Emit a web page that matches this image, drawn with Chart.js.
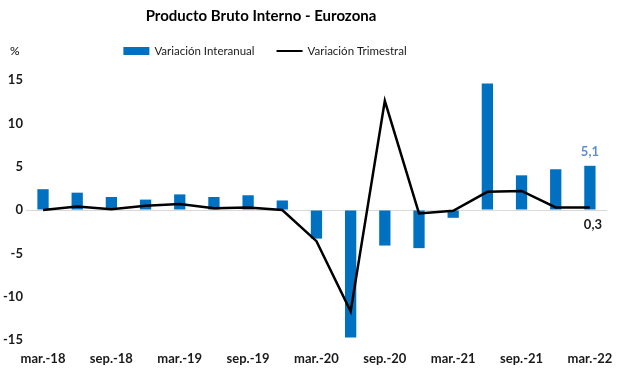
<!DOCTYPE html>
<html>
<head>
<meta charset="utf-8">
<script src="https://cdn.jsdelivr.net/npm/chart.js@4"></script>
<style>
  html, body { margin: 0; padding: 0; background: #fff; }
  #wrap { width: 617px; height: 370px; position: relative; }
</style>
</head>
<body>
<div id="wrap"><canvas id="gdp"></canvas></div>
<script>
// Quarterly data, euro area GDP
const quarters = [
  "mar.-18", "jun.-18", "sep.-18", "dic.-18",
  "mar.-19", "jun.-19", "sep.-19", "dic.-19",
  "mar.-20", "jun.-20", "sep.-20", "dic.-20",
  "mar.-21", "jun.-21", "sep.-21", "dic.-21",
  "mar.-22"
];
const yoy = [2.4, 2.0, 1.5, 1.2, 1.8, 1.5, 1.7, 1.1, -3.3, -14.7, -4.1, -4.4, -0.9, 14.6, 4.0, 4.7, 5.1];
const qoq = [0.0, 0.4, 0.1, 0.5, 0.7, 0.2, 0.3, 0.0, -3.6, -11.7, 12.6, -0.4, -0.1, 2.1, 2.2, 0.3, 0.3];
const yTicks = [-15, -10, -5, 0, 5, 10, 15];

const titleText = "Producto Bruto Interno - Eurozona";
const barColor = "#0070C0";
const FONT = "Lato, 'Liberation Sans', sans-serif";

// title, "%" unit and legend drawn above the plot
const headerPlugin = {
  id: "header",
  afterDraw(chart) {
    const ctx = chart.ctx;
    ctx.save();
    ctx.fillStyle = "#000";
    ctx.textBaseline = "middle";
    ctx.textAlign = "center";
    ctx.font = "bold 15px " + FONT;
    ctx.fillText(titleText, 261, 16);

    ctx.textAlign = "left";
    ctx.font = "12px " + FONT;
    ctx.fillText("%", 10, 51);

    // legend
    ctx.font = "11.5px " + FONT;
    const items = chart.data.datasets.map(ds => ({ text: ds.label, type: ds.type, color: ds.type === "bar" ? ds.backgroundColor : ds.borderColor }));
    const boxW = 26, gapText = 5, gapItem = 22;
    let total = 0;
    items.forEach((it, i) => {
      it.w = ctx.measureText(it.text).width;
      total += boxW + gapText + it.w + (i ? gapItem : 0);
    });
    let x = 265 - total / 2;
    const y = 51;
    items.forEach(it => {
      if (it.type === "bar") {
        ctx.fillStyle = it.color;
        ctx.fillRect(x, y - 4, boxW, 8);
      } else {
        ctx.strokeStyle = it.color;
        ctx.lineWidth = 2;
        ctx.beginPath();
        ctx.moveTo(x, y);
        ctx.lineTo(x + boxW, y);
        ctx.stroke();
      }
      ctx.fillStyle = "#1a1a1a";
      ctx.fillText(it.text, x + boxW + gapText, y);
      x += boxW + gapText + it.w + gapItem;
    });
    ctx.restore();
  }
};

// value labels on the last quarter
const lastLabels = {
  id: "lastLabels",
  afterDatasetsDraw(chart) {
    const ctx = chart.ctx;
    const n = quarters.length - 1;
    const bar = chart.getDatasetMeta(0).data[n];
    const pt = chart.getDatasetMeta(1).data[n];
    ctx.save();
    ctx.font = "bold 13px " + FONT;
    ctx.textAlign = "center";
    ctx.textBaseline = "middle";
    ctx.fillStyle = "#5B8FD0";
    ctx.fillText(yoy[n].toFixed(1).replace(".", ","), bar.x, bar.y - 14);
    ctx.fillStyle = "#1a1a1a";
    ctx.fillText(qoq[n].toFixed(1).replace(".", ","), pt.x + 3, pt.y + 17);
    ctx.restore();
  }
};

new Chart(document.getElementById("gdp"), {
  data: {
    labels: quarters,
    datasets: [
      {
        type: "bar",
        label: "Variación Interanual",
        data: yoy,
        backgroundColor: barColor,
        barPercentage: 0.33,
        categoryPercentage: 1,
        order: 1
      },
      {
        type: "line",
        label: "Variación Trimestral",
        data: qoq,
        borderColor: "#000",
        borderWidth: 2.5,
        pointRadius: 0,
        tension: 0,
        order: 0
      }
    ]
  },
  options: {
    responsive: true,
    maintainAspectRatio: false,
    animation: false,
    layout: { padding: { top: 80, right: 10, bottom: 0, left: 0 } },
    plugins: {
      legend: { display: false },
      tooltip: { enabled: false }
    },
    scales: {
      x: {
        offset: true,
        grid: { display: false, drawTicks: false },
        border: { display: false },
        afterFit: s => { s.height = 30; s.paddingLeft = 0; s.paddingRight = 0; },
        ticks: {
          autoSkip: false,
          maxRotation: 0,
          padding: 11,
          color: "#1a1a1a",
          font: { family: FONT, size: 13, weight: "bold" },
          callback: (v, i) => (i % 2 === 0 ? quarters[i] : "")
        }
      },
      y: {
        min: yTicks[0],
        max: yTicks[yTicks.length - 1],
        afterBuildTicks: axis => { axis.ticks = yTicks.map(v => ({ value: v })); },
        grid: {
          drawTicks: false,
          color: c => (c.tick && c.tick.value === 0 ? "#d9d9d9" : "transparent")
        },
        border: { display: false },
        ticks: {
          padding: 3,
          color: "#1a1a1a",
          font: { family: FONT, size: 13, weight: "bold" }
        }
      }
    }
  },
  plugins: [headerPlugin, lastLabels]
});
</script>
</body>
</html>
